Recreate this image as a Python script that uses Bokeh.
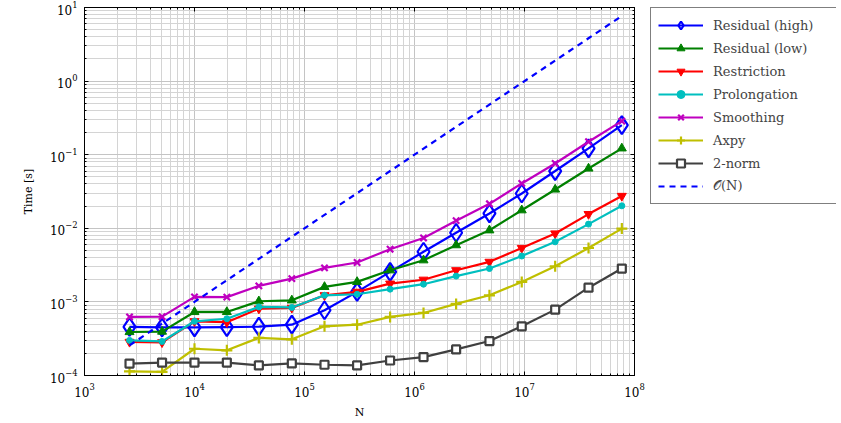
from bokeh.plotting import figure
from bokeh.models import (FixedTicker, LogTickFormatter, Legend, LogAxis, LogScale,
                          Grid, CustomJSTickFormatter)
from bokeh.layouts import row
from bokeh.embed import file_html
from bokeh.resources import INLINE

N = [2.566e3, 5.07e3, 1.0e4, 1.968e4, 3.846e4, 7.67e4, 1.52e5, 3.007e5,
     6.0e5, 1.208e6, 2.39e6, 4.8e6, 9.44e6, 1.9e7, 3.82e7, 7.67e7]

res_high = [4.57e-4, 4.5e-4, 4.5e-4, 4.55e-4, 4.6e-4, 4.9e-4, 7.7e-4, 1.37e-3,
            2.56e-3, 4.8e-3, 8.7e-3, 1.59e-2, 2.97e-2, 6.0e-2, 0.122, 0.253]
res_low = [3.9e-4, 3.95e-4, 7.3e-4, 7.3e-4, 1.02e-3, 1.05e-3, 1.6e-3, 1.87e-3,
           2.69e-3, 3.68e-3, 5.9e-3, 9.4e-3, 1.76e-2, 3.37e-2, 6.5e-2, 0.122]
restriction = [2.86e-4, 2.82e-4, 5.45e-4, 5.3e-4, 8.1e-4, 8.3e-4, 1.23e-3, 1.37e-3,
               1.77e-3, 2.0e-3, 2.69e-3, 3.5e-3, 5.4e-3, 8.5e-3, 1.56e-2, 2.75e-2]
prolongation = [3.0e-4, 2.9e-4, 5.45e-4, 5.9e-4, 8.55e-4, 8.4e-4, 1.23e-3, 1.27e-3,
                1.49e-3, 1.74e-3, 2.24e-3, 2.84e-3, 4.2e-3, 6.55e-3, 1.14e-2, 2.02e-2]
smoothing = [6.25e-4, 6.3e-4, 1.17e-3, 1.16e-3, 1.65e-3, 2.07e-3, 2.9e-3, 3.43e-3,
             5.2e-3, 7.4e-3, 1.27e-2, 2.15e-2, 4.07e-2, 7.6e-2, 0.15, 0.286]
axpy = [1.14e-4, 1.12e-4, 2.31e-4, 2.2e-4, 3.24e-4, 3.1e-4, 4.66e-4, 4.9e-4,
        6.25e-4, 7.08e-4, 9.4e-4, 1.23e-3, 1.87e-3, 3.05e-3, 5.4e-3, 9.9e-3]
norm2 = [1.45e-4, 1.5e-4, 1.5e-4, 1.5e-4, 1.37e-4, 1.46e-4, 1.4e-4, 1.37e-4,
         1.6e-4, 1.78e-4, 2.26e-4, 2.94e-4, 4.66e-4, 7.85e-4, 1.56e-3, 2.84e-3]
order_n = [2.57e-4, 5.07e-4, 1.0e-3, 1.97e-3, 3.85e-3, 7.67e-3, 1.52e-2, 3.0e-2,
           6.0e-2, 0.121, 0.239, 0.48, 0.944, 1.9, 3.82, 7.67]

x_major = [1e3, 1e4, 1e5, 1e6, 1e7, 1e8]
y_major = [1e-4, 1e-3, 1e-2, 1e-1, 1e0, 1e1]

FONT = "DejaVu Serif"
LW = 2.2

p = figure(frame_width=550, frame_height=368, x_axis_type=None, y_axis_type=None,
           x_range=(1e3, 1e8), y_range=(1e-4, 1e1),
           output_backend="svg", toolbar_location=None,
           min_border_left=84, min_border_right=16, min_border_top=5,
           min_border_bottom=10)
p.x_scale = LogScale()
p.y_scale = LogScale()
p.outline_line_color = "black"
p.outline_line_width = 1

x_minor = [m * d for d in x_major[:-1] for m in range(2, 10)]
y_minor = [m * d for d in y_major[:-1] for m in range(2, 10)]

blank = CustomJSTickFormatter(code="return ''")
bottom_ax = LogAxis(ticker=FixedTicker(ticks=x_major, minor_ticks=x_minor),
                    formatter=LogTickFormatter(), axis_label="N")
left_ax = LogAxis(ticker=FixedTicker(ticks=y_major, minor_ticks=y_minor),
                  formatter=LogTickFormatter(), axis_label="Time [s]")
top_ax = LogAxis(ticker=FixedTicker(ticks=x_major, minor_ticks=x_minor),
                 formatter=blank, major_label_standoff=0)
right_ax = LogAxis(ticker=FixedTicker(ticks=y_major, minor_ticks=y_minor),
                   formatter=blank, major_label_standoff=0)
p.add_layout(bottom_ax, "below")
p.add_layout(left_ax, "left")
p.add_layout(top_ax, "above")
p.add_layout(right_ax, "right")

for ax in (bottom_ax, left_ax, top_ax, right_ax):
    ax.major_tick_in = 4
    ax.major_tick_out = 0
    ax.minor_tick_in = 2
    ax.minor_tick_out = 0
    ax.axis_line_color = "black"
    ax.axis_label_text_font = FONT
    ax.axis_label_text_font_size = "11px"
    ax.axis_label_text_font_style = "normal"
    ax.axis_label_text_color = "black"

for ax in (bottom_ax, left_ax):
    ax.major_label_text_font = FONT
    ax.major_label_text_color = "black"
    ax.major_label_text_font_size = "12px"
    ax.major_label_standoff = 7
left_ax.axis_label_standoff = 12
bottom_ax.axis_label_standoff = 6

p.add_layout(Grid(dimension=0, ticker=bottom_ax.ticker, grid_line_color="#c4c4c4",
                  minor_grid_line_color="#d4d4d4"))
p.add_layout(Grid(dimension=1, ticker=left_ax.ticker, grid_line_color="#c4c4c4",
                  minor_grid_line_color="#d4d4d4"))

# legend panel figure
lp = figure(width=186, height=400, output_backend="svg", toolbar_location=None,
            x_axis_type=None, y_axis_type=None, x_range=(0, 1), y_range=(0, 1),
            min_border_left=0, min_border_right=0, min_border_top=7,
            min_border_bottom=0)
lp.outline_line_color = None
lp.xgrid.visible = False
lp.ygrid.visible = False

styles = [
    ("Residual (high)", res_high, "#0000ff", dict(marker="diamond", size=18, line_color="#0000ff", fill_color=None, line_width=LW), None),
    ("Residual (low)", res_low, "#008000", dict(marker="triangle", size=9, color="#008000"), None),
    ("Restriction", restriction, "#ff0000", dict(marker="inverted_triangle", size=9, color="#ff0000"), None),
    ("Prolongation", prolongation, "#00bfbf", dict(marker="circle", size=6, color="#00bfbf"), None),
    ("Smoothing", smoothing, "#bf00bf", dict(marker="x", size=9, line_color="#bf00bf", line_width=LW), None),
    ("Axpy", axpy, "#bfbf00", dict(marker="cross", size=11, line_color="#bfbf00", line_width=LW), None),
    ("2-norm", norm2, "#404040", dict(marker="square", size=8, line_color="#404040", fill_color="white", line_width=LW), None),
    ("\U0001D4AA(N)", order_n, "#0000ff", None, "6 5"),
]

items = []
for label, ys, col, mk, dash in styles:
    kw = dict(color=col, line_width=LW)
    if dash:
        kw["line_dash"] = dash
    p.line(N, ys, **kw)
    lr = [lp.line([5, 6], [5, 6], **kw)]
    if mk:
        p.scatter(N, ys, **mk)
        lr.append(lp.scatter([5], [5], **mk))
    items.append((label, lr))

legend = Legend(items=items, location="top_left")
legend.border_line_color = "black"
legend.border_line_width = 1
legend.background_fill_alpha = 1
legend.label_text_font = FONT
legend.label_text_font_size = "13px"
legend.glyph_width = 45
legend.glyph_height = 20
legend.label_height = 20
legend.label_width = 116
legend.spacing = 3
legend.padding = 7
legend.margin = 0
legend.label_standoff = 10
lp.add_layout(legend, "center")

layout = row(p, lp)
open("out.html", "w").write(file_html(layout, INLINE))
